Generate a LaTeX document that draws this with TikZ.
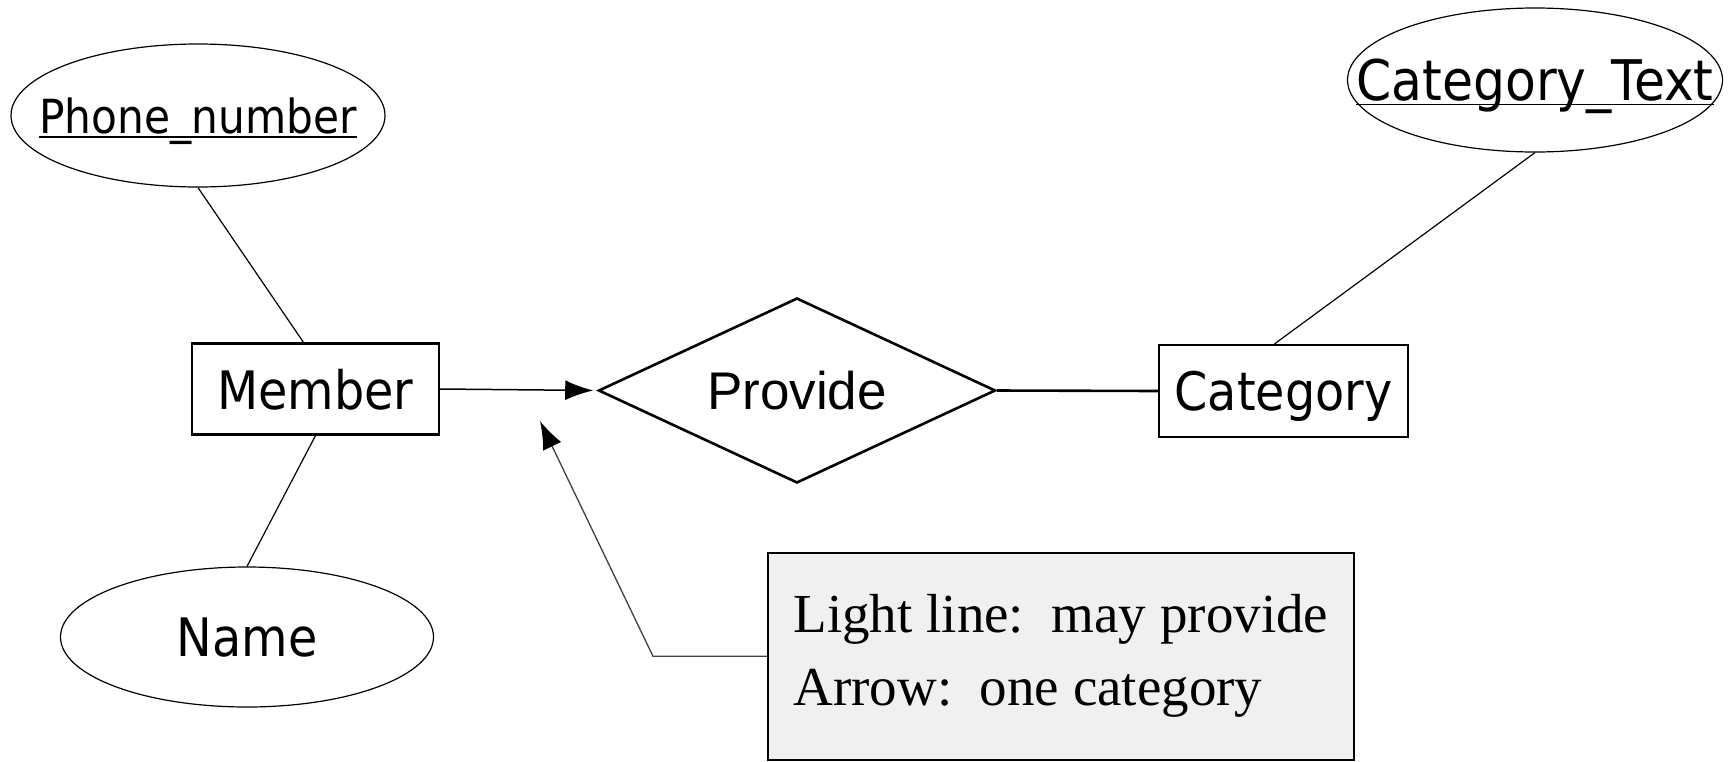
\documentclass[tikz,border=0pt]{standalone}
\usepackage{fontspec}
\setmainfont{Liberation Serif}
\newfontfamily\erfont[FakeStretch=0.9]{DejaVu Sans}
\newfontfamily\relfont{Liberation Sans}
\usetikzlibrary{shapes.geometric,arrows.meta}
\newcommand\ulin[1]{\setbox0\hbox{#1}\rlap{\rule[-4.5pt]{\wd0}{1.5pt}}\box0}
\begin{document}
\begin{tikzpicture}[x=1pt,y=-1pt,
  attr/.style={draw, ellipse, line width=1.2pt, inner sep=0pt},
  attrtext/.style={text depth=0pt, inner sep=0pt},
  ent/.style={draw, rectangle, line width=2.2pt, inner sep=0pt, text depth=0pt,
              font=\erfont\fontsize{53}{53}\selectfont},
  rel/.style={draw, diamond, line width=2.6pt, inner sep=0pt, aspect=2.15,
              text depth=0pt, font=\relfont\fontsize{53}{53}\selectfont},
  link/.style={line width=1.2pt},
  tip/.style={-{Latex[length=28pt,width=20pt]}},
  notetip/.style={-{Latex[length=28pt,width=20pt,color=black]}},
  notebox/.style={draw, fill=gray!12, line width=1.6pt, align=left, inner sep=0pt,
              font=\fontsize{55}{73}\selectfont},
  notelink/.style={line width=1.3pt, draw=black!75}
]
\useasboundingbox (0,0) rectangle (1729,761);

% entities
\node[ent, minimum width=247pt, minimum height=91pt] (member) at (315.5,389) {Member};
\node[ent, minimum width=249pt, minimum height=92pt] (category) at (1283.5,391) {Category};

% relationship
\node[rel, minimum width=397pt, minimum height=185pt] (provide) at (797,390.5) {Provide};

% attributes
\node[attr, minimum width=374pt, minimum height=143pt,
  label={[attrtext, font=\erfont\fontsize{47}{47}\selectfont]center:\ulin{Phone\_number}}]
  (phone) at (198,115.5) {};
\node[attr, minimum width=373pt, minimum height=140pt,
  label={[attrtext, font=\erfont\fontsize{53}{53}\selectfont]center:Name}]
  (name) at (247,637) {};
\node[attr, minimum width=375pt, minimum height=144pt,
  label={[attrtext, font=\erfont\fontsize{56}{56}\selectfont]center:\ulin{Category\_Text}}]
  (cattext) at (1535,80) {};

% note
\node[notebox, minimum width=586pt, minimum height=207pt, anchor=north west]
  (note) at (767,552) {Light line:\ \ may provide\\Arrow:\ \ one category};

% connectors
\draw[link] (phone.south) -- ([xshift=-12pt]member.north);
\draw[link] (member.south) -- (name.north);
\draw[link] (cattext.south) -- ([xshift=-9pt]category.north);
\draw[line width=1.5pt, tip, shorten >=4pt] (member.east) -- (provide.west);
\draw[line width=2.6pt] (provide.east) -- (category.west);

\coordinate (elbow) at (653,657);
\coordinate (notetip) at (540,421);
\draw[notelink, notetip] (note.west) -- (note.west -| elbow) -- (notetip);
\end{tikzpicture}
\end{document}
